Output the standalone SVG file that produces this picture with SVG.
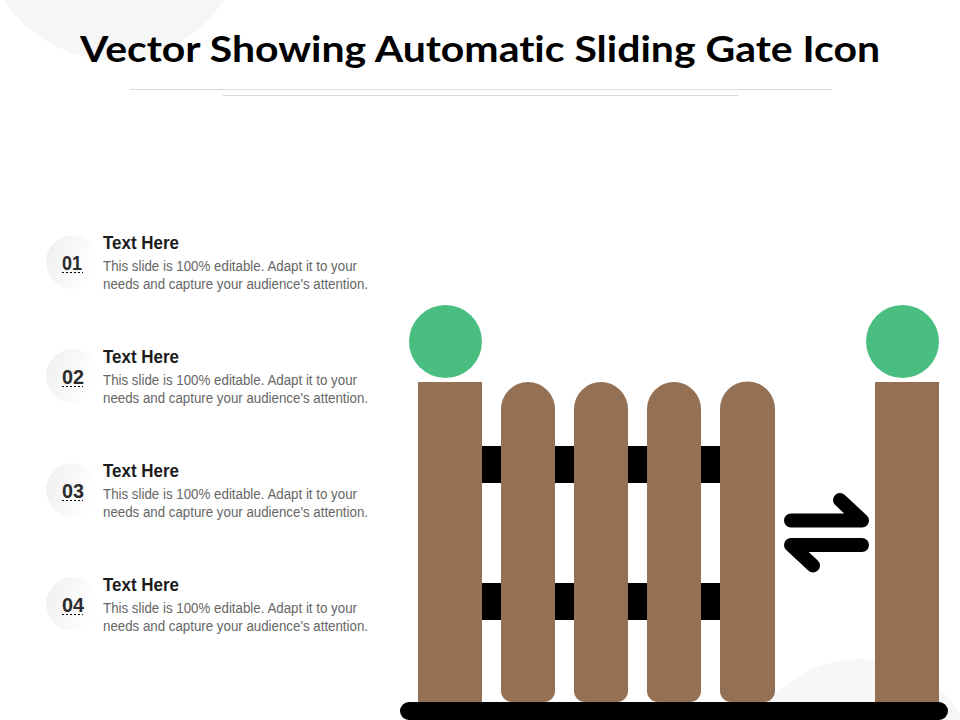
<svg xmlns="http://www.w3.org/2000/svg" width="960" height="720" viewBox="0 0 960 720">
<style>
.title{font:700 36px "Lato","Liberation Sans",sans-serif;fill:#000;font-variant-ligatures:none}
.head{font:700 18.500px "Liberation Sans",Arial,sans-serif;fill:#1c1c1c}
.body{font:400 15.500px "Liberation Sans",Arial,sans-serif;fill:#666}
.num{font:700 21px "Liberation Sans",Arial,sans-serif;fill:#2b2b2b}
.post{fill:#947054}
.rail{fill:#000}
.dot{stroke:#000;stroke-width:1;stroke-dasharray:2 2}
.rule{stroke:#d9d9d9;stroke-width:1}
</style>
<defs>
<linearGradient id="g" x1="0" y1="0" x2="1" y2="0.3"><stop offset="0" stop-color="#efefef"/><stop offset="1" stop-color="#ffffff"/></linearGradient>
</defs>
<g id="background">
<rect width="960" height="720" fill="#fff"/>
<circle cx="114" cy="-71" r="131" fill="#f6f6f6"/>
<circle cx="860" cy="778" r="119" fill="#f7f7f7"/>
</g>
<g id="title">
<text class="title" x="80" y="62" textLength="800" lengthAdjust="spacingAndGlyphs">Vector Showing Automatic Sliding Gate Icon</text>
<line class="rule" x1="130" y1="89.500" x2="832" y2="89.500"/>
<line class="rule" x1="223" y1="95.500" x2="739" y2="95.500"/>
</g>
<g id="item-1">
<circle cx="73" cy="262" r="27" fill="url(#g)"/>
<text class="num" x="62" y="270" textLength="20" lengthAdjust="spacingAndGlyphs">01</text>
<line class="dot" x1="62" y1="272.500" x2="83" y2="272.500"/>
<text class="head" x="103" y="249" textLength="76" lengthAdjust="spacingAndGlyphs">Text Here</text>
<text class="body" x="103" y="271" textLength="254" lengthAdjust="spacingAndGlyphs">This slide is 100% editable. Adapt it to your</text>
<text class="body" x="103" y="289" textLength="265" lengthAdjust="spacingAndGlyphs">needs and capture your audience's attention.</text>
</g>
<g id="item-2">
<circle cx="73" cy="376" r="27" fill="url(#g)"/>
<text class="num" x="62" y="384" textLength="22" lengthAdjust="spacingAndGlyphs">02</text>
<line class="dot" x1="62" y1="386.500" x2="83" y2="386.500"/>
<text class="head" x="103" y="363" textLength="76" lengthAdjust="spacingAndGlyphs">Text Here</text>
<text class="body" x="103" y="385" textLength="254" lengthAdjust="spacingAndGlyphs">This slide is 100% editable. Adapt it to your</text>
<text class="body" x="103" y="403" textLength="265" lengthAdjust="spacingAndGlyphs">needs and capture your audience's attention.</text>
</g>
<g id="item-3">
<circle cx="73" cy="490" r="27" fill="url(#g)"/>
<text class="num" x="62" y="498" textLength="22" lengthAdjust="spacingAndGlyphs">03</text>
<line class="dot" x1="62" y1="500.500" x2="83" y2="500.500"/>
<text class="head" x="103" y="477" textLength="76" lengthAdjust="spacingAndGlyphs">Text Here</text>
<text class="body" x="103" y="499" textLength="254" lengthAdjust="spacingAndGlyphs">This slide is 100% editable. Adapt it to your</text>
<text class="body" x="103" y="517" textLength="265" lengthAdjust="spacingAndGlyphs">needs and capture your audience's attention.</text>
</g>
<g id="item-4">
<circle cx="73" cy="604" r="27" fill="url(#g)"/>
<text class="num" x="62" y="612" textLength="22" lengthAdjust="spacingAndGlyphs">04</text>
<line class="dot" x1="62" y1="614.500" x2="83" y2="614.500"/>
<text class="head" x="103" y="591" textLength="76" lengthAdjust="spacingAndGlyphs">Text Here</text>
<text class="body" x="103" y="613" textLength="254" lengthAdjust="spacingAndGlyphs">This slide is 100% editable. Adapt it to your</text>
<text class="body" x="103" y="631" textLength="265" lengthAdjust="spacingAndGlyphs">needs and capture your audience's attention.</text>
</g>
<g id="gate">
<rect class="rail" x="482" y="446" width="238" height="37"/>
<rect class="rail" x="482" y="583" width="238" height="37"/>
<rect class="post" x="418" y="382" width="64" height="322"/>
<rect class="post" x="875" y="382" width="64" height="322"/>
<path class="post" d="M501 409a27 27 0 0 1 54 0V691a11 11 0 0 1-11 11H512a11 11 0 0 1-11-11Z"/>
<path class="post" d="M574 409a27 27 0 0 1 54 0V691a11 11 0 0 1-11 11H585a11 11 0 0 1-11-11Z"/>
<path class="post" d="M647 409a27 27 0 0 1 54 0V691a11 11 0 0 1-11 11H658a11 11 0 0 1-11-11Z"/>
<path class="post" d="M720 409a27.500 27.500 0 0 1 55 0V691a11 11 0 0 1-11 11H731a11 11 0 0 1-11-11Z"/>
<circle cx="445.500" cy="341.500" r="36.500" fill="#4abd81"/>
<circle cx="902.500" cy="341.500" r="36.500" fill="#4abd81"/>
<rect class="rail" x="400" y="702" width="548" height="18" rx="9"/>
</g>
<g id="connectors" fill="none" stroke="#000" stroke-width="14" stroke-linecap="round" stroke-linejoin="round">
<path d="M791 520.500H862L840 500"/>
<path d="M862 545H791L813 565.500"/>
</g>
</svg>
